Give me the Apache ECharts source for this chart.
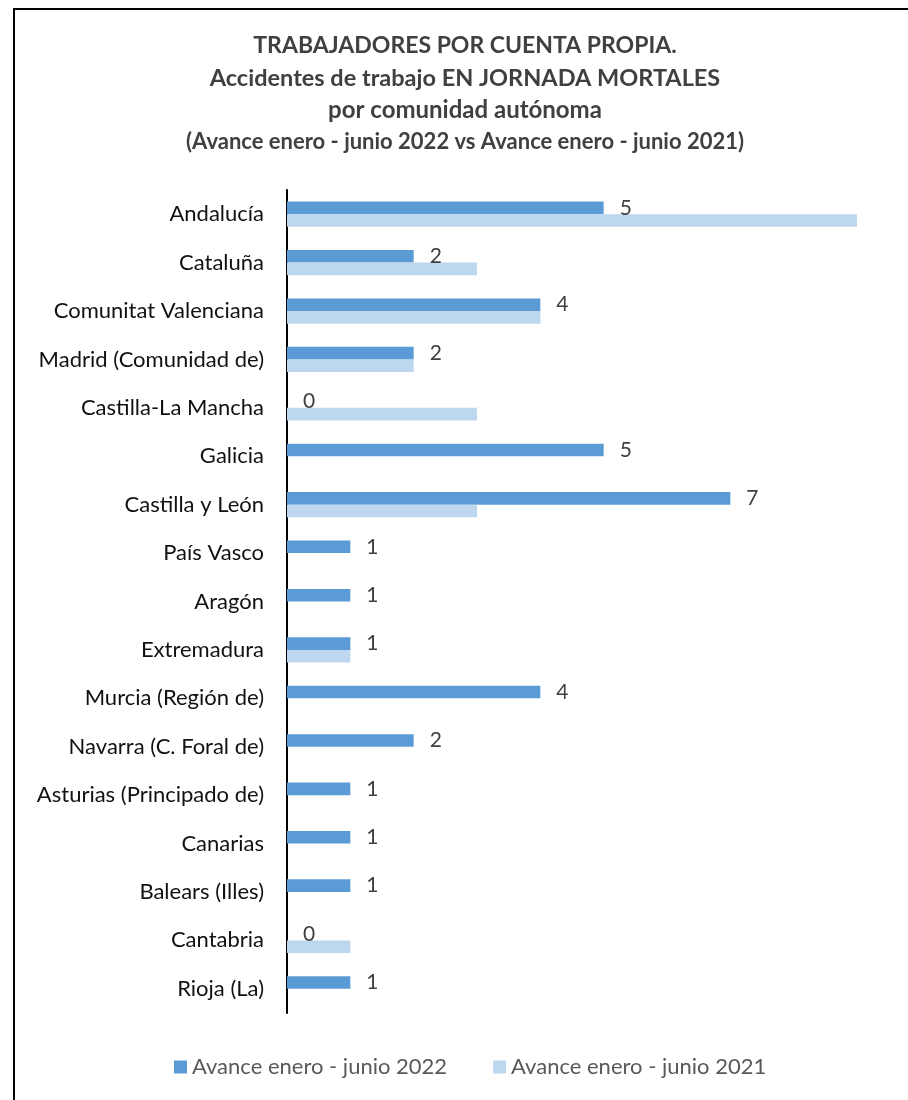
<!DOCTYPE html>
<html>
<head>
<meta charset="utf-8">
<title>Trabajadores por cuenta propia - accidentes mortales</title>
<script src="https://cdn.jsdelivr.net/npm/echarts@6/dist/echarts.min.js"></script>
<style>
  html, body { margin: 0; padding: 0; background: #fff; overflow: hidden; }
  #chart { width: 908px; height: 1100px; }
</style>
</head>
<body>
<div id="chart"></div>
<script>
  // comunidades, de arriba abajo
  const categories = [
    'Andalucía', 'Cataluña', 'Comunitat Valenciana', 'Madrid (Comunidad de)',
    'Castilla-La Mancha', 'Galicia', 'Castilla y León', 'País Vasco', 'Aragón',
    'Extremadura', 'Murcia (Región de)', 'Navarra (C. Foral de)',
    'Asturias (Principado de)', 'Canarias', 'Balears (Illes)', 'Cantabria', 'Rioja (La)'
  ];
  const seriesNames = ['Avance enero - junio 2022', 'Avance enero - junio 2021'];
  const values2022 = [5, 2, 4, 2, 0, 5, 7, 1, 1, 1, 4, 2, 1, 1, 1, 0, 1];
  const values2021 = [9, 3, 4, 2, 3, 0, 3, 0, 0, 1, 0, 0, 0, 0, 0, 1, 0];
  const titleLines = [
    'TRABAJADORES POR CUENTA PROPIA.',
    'Accidentes de trabajo EN JORNADA MORTALES',
    'por comunidad autónoma',
    '(Avance enero - junio 2022 vs Avance enero - junio 2021)'
  ];

  const FONT = 'Lato, "Open Sans", sans-serif';
  const COLORS = ['#5B9BD5', '#BDD7EE'];

  const chart = echarts.init(document.getElementById('chart'), null, { renderer: 'canvas' });

  const titleSizes = [23, 23.5, 24, 22];
  const titleTops = [34, 66, 98, 131];
  const titles = titleLines.map((t, i) => ({
    text: t,
    left: 465,
    top: titleTops[i],
    textAlign: 'center',
    padding: 0,
    textStyle: {
      fontFamily: FONT,
      fontWeight: 'bold',
      fontSize: titleSizes[i],
      color: '#404040'
    }
  }));

  chart.setOption({
    animation: false,
    color: COLORS,
    title: titles,
    graphic: [{
      type: 'rect',
      shape: { x: 14, y: 9, width: 1000, height: 1200 },
      style: { fill: 'none', stroke: '#000', lineWidth: 2 },
      silent: true
    }],
    legend: {
      data: seriesNames,
      left: 174,
      top: 1056,
      padding: 0,
      itemWidth: 13,
      itemHeight: 13,
      itemGap: 46,
      icon: 'rect',
      textStyle: { fontFamily: FONT, fontSize: 22, color: '#595959' }
    },
    grid: { left: 287, right: 51, top: 190, bottom: 87, containLabel: false },
    xAxis: {
      type: 'value',
      min: 0,
      max: 9,
      show: false,
      splitLine: { show: false }
    },
    yAxis: {
      type: 'category',
      data: categories,
      inverse: true,
      axisLine: { show: true, lineStyle: { color: '#000', width: 2 } },
      axisTick: { show: false },
      axisLabel: { fontFamily: FONT, fontSize: 22, color: '#111', margin: 23 }
    },
    series: [
      {
        name: seriesNames[0],
        type: 'bar',
        data: values2022,
        barWidth: 12.6,
        barGap: '0%',
        label: {
          show: true,
          position: 'right',
          distance: 16,
          fontFamily: FONT,
          fontSize: 21,
          color: '#404040'
        }
      },
      {
        name: seriesNames[1],
        type: 'bar',
        data: values2021,
        barWidth: 12.6,
        barGap: '0%'
      }
    ]
  });
</script>
</body>
</html>
